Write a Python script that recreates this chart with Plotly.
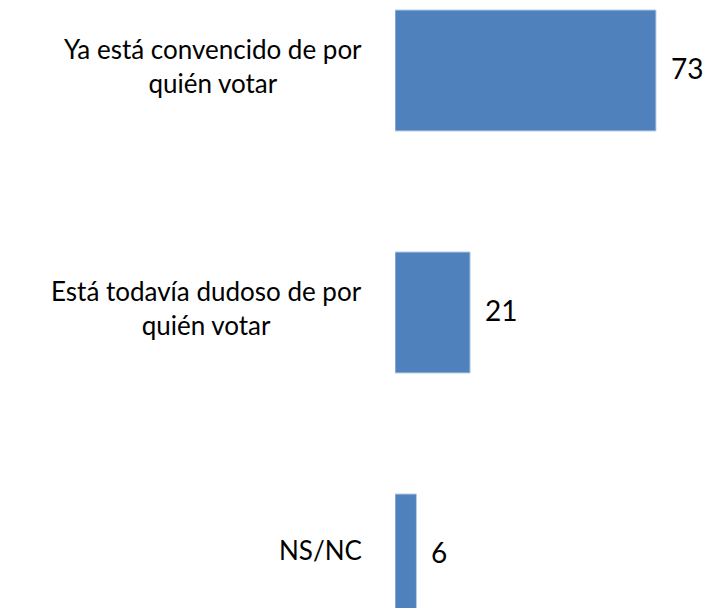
import plotly.graph_objects as go

categorias = ["Ya está convencido de por<br>quién votar",
              "Está todavía dudoso de por<br>quién votar",
              "NS/NC"]
valores = [73, 21, 6]
posiciones = [0, 1, 2]

fig = go.Figure()
fig.add_trace(go.Bar(
    x=valores, y=posiciones, orientation='h',
    width=0.5,
    marker=dict(color='#4F81BD', line=dict(color='#B9CDE5', width=1)),
    hoverinfo='skip',
))

annotations = []
for pos, cat, val in zip(posiciones, categorias, valores):
    annotations.append(dict(
        xref='paper', yref='y', x=-31 / 311, y=pos, yshift=4,
        text=cat, showarrow=False, xanchor='right', yanchor='middle',
        align='center', font=dict(size=26, color='#000000'),
    ))
    annotations.append(dict(
        xref='x', yref='y', x=val, y=pos, xshift=13, yshift=2,
        text=str(val), showarrow=False, xanchor='left', yanchor='middle',
        font=dict(size=28, color='#000000'),
    ))

fig.update_layout(
    width=706, height=608,
    margin=dict(l=395, r=0, t=0, b=0),
    paper_bgcolor='white', plot_bgcolor='white',
    font=dict(family='Lato, Open Sans, sans-serif'),
    showlegend=False,
    xaxis=dict(range=[0, 311 / 3.575], visible=False),
    yaxis=dict(range=[2.2211, -0.2913], visible=False),
    annotations=annotations,
)

# drop the default 8px body margin so the figure fills the window
fig.write_html("out.html",
               config={'displayModeBar': False},
               post_script="document.body.style.margin='0';"
                           "document.body.style.overflow='hidden';")
